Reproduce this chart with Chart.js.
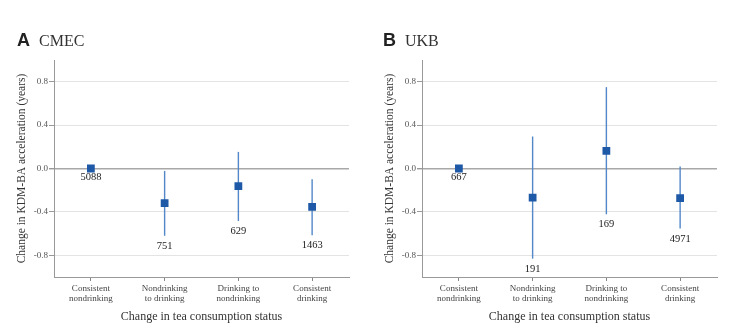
<!DOCTYPE html>
<html>
<head>
<meta charset="utf-8">
<script src="https://cdn.jsdelivr.net/npm/chart.js@4/dist/chart.umd.min.js"></script>
<style>
    body { margin: 0; background: #fff; }
    #wrap { position: relative; width: 749px; height: 334px; }
    .panel { position: absolute; top: 0; height: 334px; }
    .title { position: absolute; top: 30px; white-space: nowrap; color: #222; line-height: 20px; }
    .title b { font: bold 18px "Liberation Sans", Arial, sans-serif; }
    .title span { font: 16px "Liberation Serif", "Times New Roman", serif; margin-left: 9px; color: #333; }
</style>
</head>
<body>
<div id="wrap">
    <div class="panel" style="left:0;width:370px"><canvas id="chartA" width="370" height="334"></canvas></div>
    <div class="panel" style="left:370px;width:379px"><canvas id="chartB" width="379" height="334"></canvas></div>
    <div class="title" style="left:17px"><b>A</b><span>CMEC</span></div>
    <div class="title" style="left:383px"><b>B</b><span>UKB</span></div>
</div>
<script>
const categories = [
    ["Consistent", "nondrinking"],
    ["Nondrinking", "to drinking"],
    ["Drinking to", "nondrinking"],
    ["Consistent", "drinking"],
];
const yTicks = [-0.8, -0.4, 0, 0.4, 0.8];

// CMEC
const cmecEstimate = [0, -0.32, -0.163, -0.354];
const cmecLower = [0, -0.62, -0.484, -0.616];
const cmecUpper = [0, -0.022, 0.153, -0.099];
const cmecCount = [5088, 751, 629, 1463];

// UKB
const ukbEstimate = [0, -0.268, 0.163, -0.274];
const ukbLower = [0, -0.831, -0.422, -0.554];
const ukbUpper = [0, 0.295, 0.75, 0.018];
const ukbCount = [667, 191, 169, 4971];

const serif = '"Liberation Serif", "Times New Roman", serif';

// whiskers under the points, sample sizes below the lower bound
const errorBars = {
    id: "errorBars",
    beforeDatasetsDraw(chart, args, opts) {
        const { ctx, scales } = chart;
        ctx.save();
        ctx.strokeStyle = "#5287c8";
        ctx.lineWidth = 1.4;
        opts.lower.forEach((lo, i) => {
            const x = scales.x.getPixelForValue(i);
            ctx.beginPath();
            ctx.moveTo(x, scales.y.getPixelForValue(opts.upper[i]));
            ctx.lineTo(x, scales.y.getPixelForValue(lo));
            ctx.stroke();
        });
        ctx.restore();
    },
    afterDatasetsDraw(chart, args, opts) {
        const { ctx, scales } = chart;
        ctx.save();
        ctx.fillStyle = "#222";
        ctx.font = "10.5px " + serif;
        ctx.textAlign = "center";
        ctx.textBaseline = "top";
        opts.counts.forEach((n, i) => {
            const x = scales.x.getPixelForValue(i);
            const y = scales.y.getPixelForValue(opts.lower[i]) + (opts.lower[i] === 0 ? 3 : 5);
            ctx.fillText(String(n), x, y);
        });
        ctx.restore();
    },
};

const makeChart = (canvasId, estimate, lower, upper, counts, padRight, yWidth, yTitlePad) => {
    const ctx = document.getElementById(canvasId).getContext("2d");
    return new Chart(ctx, {
        type: "line",
        data: {
            labels: categories,
            datasets: [{
                data: estimate,
                showLine: false,
                pointStyle: "rect",
                pointRadius: 5.5,
                pointHoverRadius: 5.5,
                pointBorderWidth: 0,
                backgroundColor: "#1d59a6",
                borderColor: "#1d59a6",
            }],
        },
        options: {
            responsive: false,
            animation: false,
            layout: { padding: { top: 60, right: padRight, bottom: 0, left: 0 } },
            plugins: {
                legend: { display: false },
                tooltip: { enabled: false },
                errorBars: { lower: lower, upper: upper, counts: counts },
            },
            scales: {
                x: {
                    type: "category",
                    offset: true,
                    afterFit: (s) => { s.height = 57; },
                    grid: { drawOnChartArea: false, drawTicks: true, tickLength: 4, tickColor: "#888" },
                    border: { color: "#999", width: 1 },
                    ticks: {
                        maxRotation: 0,
                        autoSkip: false,
                        padding: 3,
                        color: "#444",
                        font: { family: serif, size: 9, lineHeight: 1.05 },
                    },
                    title: {
                        display: true,
                        text: "Change in tea consumption status",
                        color: "#333",
                        font: { family: serif, size: 12 },
                        padding: { top: 0, bottom: 10 },
                    },
                },
                y: {
                    min: -1,
                    max: 1,
                    afterFit: (s) => { s.width = yWidth; },
                    afterBuildTicks: (s) => { s.ticks = yTicks.map((v) => ({ value: v })); },
                    grid: {
                        color: (c) => (c.tick && c.tick.value === 0 ? "#a8a8a8" : "#e3e3e3"),
                        lineWidth: (c) => (c.tick && c.tick.value === 0 ? 1.4 : 1),
                        tickColor: "#999",
                        tickLength: 5,
                    },
                    border: { color: "#999", width: 1 },
                    ticks: {
                        padding: 1,
                        color: "#555",
                        font: { family: serif, size: 9 },
                        callback: (v) => Number(v).toFixed(1),
                    },
                    title: {
                        display: true,
                        text: "Change in KDM-BA acceleration (years)",
                        color: "#333",
                        font: { family: serif, size: 11.5 },
                        padding: { top: yTitlePad, bottom: 0 },
                    },
                },
            },
        },
        plugins: [errorBars],
    });
};

makeChart("chartA", cmecEstimate, cmecLower, cmecUpper, cmecCount, 21, 54, 15);
makeChart("chartB", ukbEstimate, ukbLower, ukbUpper, ukbCount, 32, 52, 13);
</script>
</body>
</html>
